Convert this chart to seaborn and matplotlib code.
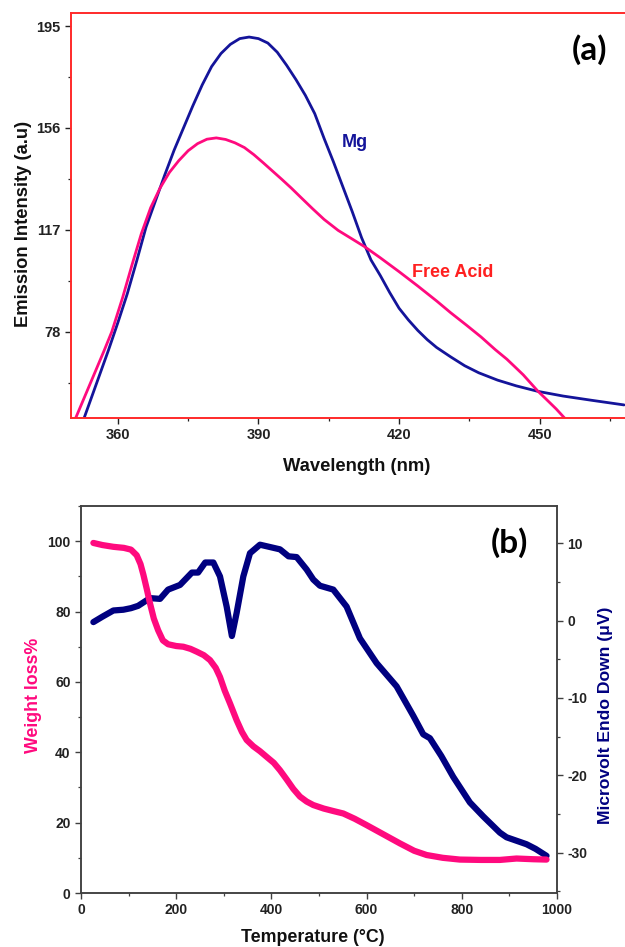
import numpy as np
import pandas as pd
import matplotlib
matplotlib.use("Agg")
import matplotlib.pyplot as plt
from matplotlib.ticker import MultipleLocator, FixedLocator
import seaborn as sns

# ---------------- data: panel (a) emission spectra ----------------
mg_wavelength = [352.8, 354, 356, 358, 360, 362, 364, 366, 368, 370, 372, 374, 376, 378,
                 380, 382, 384, 386, 388, 390, 392, 394, 396, 398, 400, 402, 404, 406,
                 408, 410, 412, 414, 416, 418, 420, 422, 424, 426, 428, 431, 434, 437,
                 441, 445, 449.6, 455, 461, 468]
mg_intensity = [45, 51, 61, 71, 81.5, 92.5, 105, 118, 128, 138, 147.5, 156, 164.5, 172.5,
                179.5, 184.5, 188, 190.2, 190.8, 190.2, 188.5, 185, 180, 174.5, 168.5,
                161.5, 152, 143, 133.5, 124, 114, 105.5, 99.5, 93, 87, 82.5, 78.5, 75,
                72, 68.4, 65, 62.3, 59.5, 57.3, 55.2, 53.4, 51.8, 50]

acid_wavelength = [351, 353, 355, 357, 358.7, 361, 363, 365, 367, 369, 371, 373, 375,
                   377, 379, 381, 383, 385, 387, 389, 391, 393, 395, 397, 399, 401.6,
                   404, 407, 410, 412.7, 416, 420, 424, 428, 431, 434.4, 437.5, 440.5,
                   443, 444.7, 446.5, 448, 449.6, 451.5, 453.5, 455.3]
acid_intensity = [45, 53.5, 62, 70.5, 78, 91, 103.5, 115.5, 125.5, 133, 139, 143.5, 147.3,
                  150, 151.7, 152.2, 151.6, 150.3, 148.5, 145.8, 142.7, 139.5, 136.3, 133,
                  129.5, 125, 121, 116.8, 113.5, 110.5, 106.3, 101, 95.5, 89.8, 85.3,
                  80.5, 76, 71.2, 67.5, 64.6, 61.5, 58.5, 55.3, 52, 48.5, 45]

# ---------------- data: panel (b) thermal analysis ----------------
tg_temp = [26, 45, 68, 90, 105, 117, 125, 131, 138, 145, 153, 162, 172, 183, 200, 215,
           230, 243, 258, 271, 283, 292, 302, 313, 327, 338, 348, 362, 376, 390, 405,
           418, 432, 446, 460, 474, 488, 510, 530, 551, 575, 600, 635, 670, 700, 726,
           760, 796, 840, 880, 915, 950, 978]
tg_weight = [99.5, 98.9, 98.4, 98.1, 97.6, 96.0, 93.5, 90.5, 86.5, 82.3, 78.0, 74.7,
             71.8, 70.7, 70.2, 70.0, 69.4, 68.6, 67.6, 66.2, 64.0, 61.4, 57.5, 53.9,
             49.1, 45.8, 43.5, 41.7, 40.3, 38.7, 37.0, 34.9, 32.3, 29.6, 27.4, 26.0,
             25.0, 24.0, 23.3, 22.6, 21.1, 19.3, 16.7, 14.1, 12.0, 10.8, 10.0, 9.5,
             9.4, 9.4, 9.8, 9.6, 9.5]

dta_temp = [26, 45, 68, 89, 105, 120, 145, 166, 183, 208, 233, 246, 261, 278, 292,
            306, 317, 327, 341, 355, 376, 404, 418, 436, 453, 474, 488, 502, 530,
            558, 586, 621, 663, 698, 719, 733, 757, 782, 817, 845, 880, 894, 936,
            955, 978]
dta_uv = [-0.2, 0.5, 1.3, 1.4, 1.6, 1.9, 2.9, 2.8, 4.0, 4.6, 6.2, 6.2, 7.5, 7.5, 5.7,
          1.8, -2.0, 1.0, 5.7, 8.7, 9.8, 9.4, 9.2, 8.3, 8.2, 6.6, 5.3, 4.5, 4.0,
          1.8, -2.3, -5.5, -8.5, -12.3, -14.7, -15.2, -17.5, -20.2, -23.5, -25.3,
          -27.4, -28.0, -28.9, -29.5, -30.4]

a_yticks = [78, 117, 156, 195]
a_yminor = [58.5, 97.5, 136.5, 175.5]

# ---------------- style ----------------
sns.set_theme(style="ticks")
plt.rcParams['font.family'] = ['Liberation Sans', 'DejaVu Sans']
plt.rcParams['font.weight'] = 'bold'
plt.rcParams['axes.labelweight'] = 'bold'
plt.rcParams['axes.unicode_minus'] = False

PINK = "#FF0A7E"
BLUE_A = "#14149A"
NAVY = "#000080"
RED = "#FF2A2A"
GRAY = "#404040"

fig = plt.figure(figsize=(6.25, 9.47), dpi=100)

# ---------------- panel (a) ----------------
axa = fig.add_axes([71/625, 1-418/947, (625-71)/625, (418-13)/947])
df_mg = pd.DataFrame({"wl": mg_wavelength, "I": mg_intensity})
df_ac = pd.DataFrame({"wl": acid_wavelength, "I": acid_intensity})
sns.lineplot(data=df_mg, x="wl", y="I", ax=axa, color=BLUE_A, lw=2.0, legend=False)
sns.lineplot(data=df_ac, x="wl", y="I", ax=axa, color=PINK, lw=2.0, legend=False)
axa.set_xlim(350, 468.2)
axa.set_ylim(45, 200)
axa.xaxis.set_major_locator(MultipleLocator(30))
axa.xaxis.set_minor_locator(MultipleLocator(15))
axa.yaxis.set_major_locator(FixedLocator(a_yticks))
axa.yaxis.set_minor_locator(FixedLocator(a_yminor))
for s in ["left", "bottom", "top"]:
    axa.spines[s].set_color(RED)
    axa.spines[s].set_linewidth(1.4)
axa.spines["right"].set_visible(False)
axa.tick_params(which="major", length=4, width=1, color="#222222", labelsize=10.5,
                labelcolor="#222222", direction="out")
axa.tick_params(which="minor", length=2.5, width=0.9, color="#222222", direction="out")
axa.set_xlabel("Wavelength (nm)", fontsize=13.2, color="#111111")
axa.set_ylabel("Emission Intensity (a.u)", fontsize=13.2, color="#111111")
axa.xaxis.set_label_coords(0.516, -0.099)
axa.yaxis.set_label_coords(-0.07, 0.48)
axa.text(410.6, 150.6, "Mg", color=BLUE_A, fontsize=13, ha="center", va="center",
         fontweight="bold")
axa.text(422.7, 100.5, "Free Acid", color="#FF2020", fontsize=13, ha="left",
         va="center", fontweight="bold")
axa.text(460.7, 185.8, "(a)", fontsize=24, ha="center", va="center",
         fontweight="bold", family=["Lato", "DejaVu Sans"], color="black")

# ---------------- panel (b) ----------------
axb = fig.add_axes([81/625, 1-893/947, 476/625, 387/947])
axb2 = axb.twinx()
df_tg = pd.DataFrame({"T": tg_temp, "W": tg_weight})
df_dta = pd.DataFrame({"T": dta_temp, "V": dta_uv})
sns.lineplot(data=df_dta, x="T", y="V", ax=axb2, color=NAVY, lw=4.5, legend=False)
sns.lineplot(data=df_tg, x="T", y="W", ax=axb, color=PINK, lw=4.5, legend=False)
axb.set_zorder(axb2.get_zorder() + 1)
axb.patch.set_visible(False)

axb.set_xlim(0, 1000)
axb.set_ylim(0, 110)
axb2.set_ylim(-35.2, 14.8)
axb.xaxis.set_major_locator(MultipleLocator(200))
axb.xaxis.set_minor_locator(MultipleLocator(100))
axb.yaxis.set_major_locator(MultipleLocator(20))
axb.yaxis.set_minor_locator(MultipleLocator(10))
axb2.yaxis.set_major_locator(MultipleLocator(10))
axb2.yaxis.set_minor_locator(MultipleLocator(5))
for a in (axb, axb2):
    for s in a.spines.values():
        s.set_color(GRAY)
        s.set_linewidth(1.1)
    a.tick_params(which="major", length=4, width=1, color=GRAY, labelsize=10,
                  labelcolor="#222222", direction="out")
    a.tick_params(which="minor", length=2.5, width=0.9, color=GRAY, direction="out")
axb.set_xlabel("Temperature (°C)", fontsize=12.8, color="#111111")
axb.set_ylabel("Weight loss%", fontsize=12.8, color=PINK)
axb2.set_ylabel("Microvolt Endo Down (μV)", fontsize=12.6, color=NAVY)
axb.xaxis.set_label_coords(0.487, -0.093)
axb.yaxis.set_label_coords(-0.082, 0.51)
axb2.yaxis.set_label_coords(1.086, 0.46)
axb.text(901, 99.7, "(b)", fontsize=24, ha="center", va="center",
         fontweight="bold", family=["Lato", "DejaVu Sans"], color="black")

fig.savefig("out.png", dpi=100)
